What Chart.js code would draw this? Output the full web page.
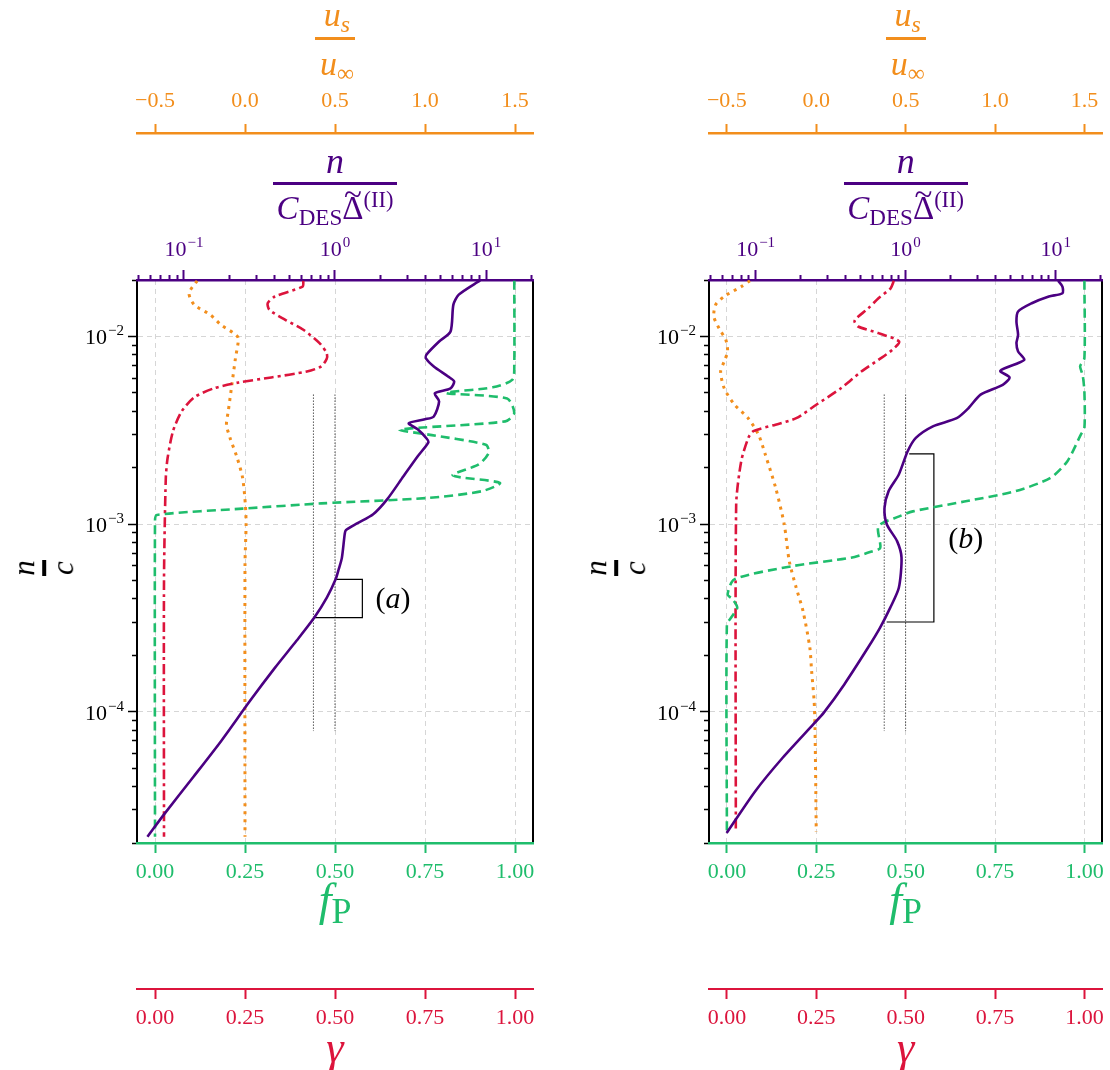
<!DOCTYPE html>
<html>
<head>
<meta charset="utf-8">
<script src="https://cdn.jsdelivr.net/npm/chart.js@4.4.1/dist/chart.umd.min.js"></script>
<style>
  html, body { margin: 0; padding: 0; background: #fff; }
  #wrap { position: relative; width: 1110px; height: 1070px; overflow: hidden;
          font-family: 'Liberation Serif', 'DejaVu Serif', serif; }
  .panel { position: absolute; top: 0; width: 555px; height: 1070px; }
  .panel canvas { position: absolute; left: 0; top: 0; }
  .lbl { position: absolute; white-space: nowrap; line-height: 1; transform: translateX(-50%); }
  .bar { position: absolute; transform: translateX(-50%); }
  .sub { font-size: 0.7em; position: relative; top: 0.25em; }
  .subP { font-size: 0.78em; position: relative; top: 0.22em; }
  .sup { font-size: 0.68em; position: relative; top: -0.55em; }
  .acc { position: relative; display: inline-block; }
  .til { position: absolute; left: 50%; top: -0.42em; transform: translateX(-50%); }
  .ylab { position: absolute; transform: translate(-50%, -50%) rotate(-90deg); text-align: center;
          line-height: 0.8; font-size: 31px; }
  .ylab .fbar { width: 16px; height: 4px; background: #000; margin: 5px auto 5px; }
  .tag { position: absolute; transform: translate(-50%, -50%); font-size: 30px; white-space: nowrap; }
</style>
</head>
<body>
<div id="wrap">
  <div class="panel" id="panelA" style="left:0"><canvas id="chartA" width="555" height="1070"></canvas></div>
  <div class="panel" id="panelB" style="left:555px"><canvas id="chartB" width="555" height="1070"></canvas></div>
</div>
<script>
// tick values
const fTicks = [0, 0.25, 0.5, 0.75, 1];
const uTicks = [-0.5, 0, 0.5, 1, 1.5];
const nRange = [0.0489, 20.46];
const cRange = [2e-5, 2e-2];

// panel (a)
const aPurpleY = [0.0199, 0.01671, 0.01479, 0.01063, 0.0094, 0.00802, 0.00764, 0.00692, 0.00612, 0.00576, 0.00529, 0.00498, 0.00451, 0.00375, 0.00362, 0.00345, 0.0032, 0.00286, 0.00273, 0.0023, 0.0018, 0.00136, 0.00113, 0.00101, 0.000929, 0.000885, 0.000659, 0.000577, 0.000508, 0.000406, 0.000318, 0.000239, 0.000172, 0.0001145, 7.02e-5, 4.48e-5, 2.86e-5, 2.16e-5];
const aPurpleX = [9.14, 6.60, 6.08, 5.82, 4.89, 4.04, 4.00, 4.51, 5.61, 6.15, 5.82, 4.58, 4.89, 4.51, 3.94, 3.08, 3.53, 4.04, 4.15, 3.53, 2.84, 2.22, 1.79, 1.40, 1.18, 1.16, 1.11, 1.06, 1.01, 0.883, 0.730, 0.556, 0.401, 0.274, 0.177, 0.115, 0.0743, 0.0573];
const aOrangeY = [0.0198, 0.0170, 0.01475, 0.01304, 0.01153, 0.01042, 0.0098, 0.00767, 0.00553, 0.00399, 0.00339, 0.00288, 0.00225, 0.00176, 0.00127, 0.000996, 0.00061, 2.16e-5];
const aOrangeU = [-0.266, -0.311, -0.282, -0.192, -0.133, -0.063, -0.037, -0.053, -0.073, -0.093, -0.103, -0.083, -0.043, -0.013, 0.002, 0.006, 0.0, 0.0];
const aRedY = [0.0198, 0.01845, 0.01634, 0.01504, 0.01386, 0.01227, 0.01086, 0.00922, 0.00815, 0.00761, 0.00693, 0.00651, 0.00605, 0.00569, 0.0053, 0.00474, 0.00399, 0.00313, 0.00225, 0.00176, 0.0005, 2.16e-5];
const aRedG = [0.412, 0.410, 0.333, 0.313, 0.318, 0.362, 0.412, 0.457, 0.477, 0.477, 0.462, 0.422, 0.323, 0.233, 0.164, 0.109, 0.074, 0.050, 0.035, 0.030, 0.025, 0.025];
const aGreenY = [0.0198, 0.00707, 0.00589, 0.00536, 0.0050, 0.00467, 0.00391, 0.00353, 0.00319, 0.0030, 0.00265, 0.0024, 0.00208, 0.00182, 0.00166, 0.0015, 0.00138, 0.00129, 0.00121, 0.00112, 0.00104, 2.16e-5];
const aGreenF = [0.998, 0.998, 0.993, 0.938, 0.809, 0.978, 0.998, 0.973, 0.680, 0.760, 0.919, 0.927, 0.899, 0.827, 0.958, 0.909, 0.760, 0.462, 0.243, 0.005, 0.0, 0.0];
const aBracketF = [0.503, 0.576, 0.576, 0.442];
const aBracketY = [5.08e-4, 5.08e-4, 3.18e-4, 3.18e-4];
const aTagPos = [0.661, 4.04e-4];

// panel (b)
const bPurpleY = [0.0198, 0.01845, 0.0170, 0.01634, 0.01504, 0.01359, 0.01202, 0.01021, 0.00922, 0.00832, 0.00751, 0.00657, 0.00605, 0.00553, 0.0049, 0.00416, 0.00367, 0.00332, 0.00288, 0.00244, 0.00184, 0.0015, 0.00122, 0.000996, 0.000812, 0.000663, 0.000458, 0.000359, 0.000281, 0.00022, 0.00014, 9.9e-5, 8.6e-5, 5.71e-5, 3.8e-5, 2.26e-5];
const bPurpleX = [10.4, 11.1, 11.1, 9.01, 6.93, 5.62, 5.48, 5.62, 5.48, 5.62, 6.18, 4.28, 4.93, 4.44, 3.16, 2.63, 2.19, 1.52, 1.17, 1.03, 0.901, 0.770, 0.723, 0.750, 0.877, 0.939, 0.901, 0.79, 0.676, 0.562, 0.390, 0.285, 0.243, 0.152, 0.1, 0.0641];
const bOrangeY = [0.0198, 0.01845, 0.01634, 0.01475, 0.01277, 0.01107, 0.0096, 0.00832, 0.00736, 0.00651, 0.0053, 0.00434, 0.00367, 0.003, 0.00235, 0.00156, 0.000996, 0.000635, 0.000458, 0.000344, 0.00022, 0.000165, 0.0001145, 8.24e-5, 2.3e-5];
const bOrangeU = [-0.371, -0.419, -0.515, -0.563, -0.573, -0.544, -0.506, -0.496, -0.515, -0.535, -0.515, -0.458, -0.381, -0.323, -0.285, -0.227, -0.179, -0.151, -0.112, -0.074, -0.036, -0.026, -0.012, -0.007, 0.0];
const bRedY = [0.0198, 0.01807, 0.016, 0.0141, 0.01251, 0.01202, 0.0113, 0.01042, 0.0094, 0.0085, 0.00751, 0.00651, 0.0053, 0.00434, 0.00367, 0.00339, 0.00313, 0.00288, 0.00216, 0.00127, 2.3e-5];
const bRedG = [0.467, 0.458, 0.424, 0.395, 0.362, 0.357, 0.367, 0.424, 0.482, 0.463, 0.424, 0.376, 0.319, 0.251, 0.194, 0.136, 0.074, 0.060, 0.040, 0.026, 0.025];
const bGreenY = [0.0198, 0.00767, 0.00693, 0.00625, 0.00509, 0.00325, 0.003, 0.00216, 0.00176, 0.0015, 0.00132, 0.00117, 0.0011, 0.000976, 0.000748, 0.000715, 0.000663, 0.000598, 0.000508, 0.000422, 0.000398, 0.000359, 0.000318, 0.000292, 2.3e-5];
const bGreenF = [1.0, 1.0, 0.988, 0.995, 1.0, 1.0, 0.990, 0.952, 0.904, 0.808, 0.664, 0.520, 0.482, 0.424, 0.429, 0.405, 0.347, 0.184, 0.021, 0.002, 0.016, 0.029, 0.012, 0.0, 0.0];
const bBracketF = [0.51, 0.579, 0.579, 0.447];
const bBracketY = [2.37e-3, 2.37e-3, 3.01e-4, 3.01e-4];
const bTagPos = [0.668, 8.43e-4];

// dotted guides (both panels), on the n/(C Delta) axis
const guideN = [0.72, 1.0];
const guideY = [4.9e-3, 7.9e-5];

const PURPLE = '#4b0082', ORANGE = '#f28e1c', GREEN = '#1fbd6c', RED = '#dc143c';
const GRID = '#d6d6d6';
const FONT = "'Liberation Serif', 'DejaVu Serif', serif";
Chart.defaults.font.family = FONT;

function logTicks(min, max) {
  const out = [];
  for (let k = Math.floor(Math.log10(min)); k <= Math.ceil(Math.log10(max)); k++) {
    for (let m = 1; m <= 9; m++) {
      const v = m * Math.pow(10, k);
      if (v >= min * 0.999 && v <= max * 1.001) out.push({ value: v, major: m === 1 });
    }
  }
  return out;
}
const pts = (xs, ys) => xs.map((x, i) => ({ x, y: ys[i] }));
const isMajor = c => c.tick && c.tick.major;
// minor ticks: draw only the inner part of the tick line
const minorDash = (tl, len) => c => (c.tick && !c.tick.major ? [0, tl - len, len + 20] : []);

// draws 10^k labels of the log axes with a real raised exponent
const powerLabels = {
  id: 'powerLabels',
  afterDraw(chart) {
    const ctx = chart.ctx;
    const draw = (scale, color, place) => {
      scale.ticks.forEach(t => {
        if (!t.major) return;
        const exp = String(Math.round(Math.log10(t.value))).replace('-', '\u2212');
        ctx.save();
        ctx.fillStyle = color;
        ctx.textBaseline = 'alphabetic';
        ctx.font = '22px ' + FONT;
        const wBase = ctx.measureText('10').width;
        ctx.font = '15px ' + FONT;
        const wExp = ctx.measureText(exp).width;
        const pos = scale.getPixelForValue(t.value);
        const [x0, yb] = place(pos, wBase + wExp + 1);
        ctx.font = '22px ' + FONT;
        ctx.fillText('10', x0, yb);
        ctx.font = '15px ' + FONT;
        ctx.fillText(exp, x0 + wBase + 1, yb - 9);
        ctx.restore();
      });
    };
    const ys = chart.scales.y, xn = chart.scales.xn;
    draw(ys, '#000', (p, w) => [ys.right - 13 - w, p + 8]);
    draw(xn, PURPLE, (p, w) => [p - w / 2, xn.bottom - 24]);
  }
};

function buildChart(canvasId, p) {
  const line = (data, axis, color, dash, width) => ({
    data, xAxisID: axis, borderColor: color, borderDash: dash, borderWidth: width,
    pointRadius: 0, tension: 0.25, fill: false
  });
  const datasets = [
    line(pts(p.purpleX, p.purpleY), 'xn', PURPLE, [], 2.6),
    line(pts(p.greenF, p.greenY), 'x', GREEN, [9, 5], 2.6),
    line(pts(p.redG, p.redY), 'xg', RED, [10, 4, 3, 4], 2.6),
    line(pts(p.orangeU, p.orangeY), 'xu', ORANGE, [3, 5], 3),
    line(pts([guideN[0], guideN[0]], guideY), 'xn', '#000', [1, 2], 1),
    line(pts([guideN[1], guideN[1]], guideY), 'xn', '#000', [1, 2], 1),
    line(pts(p.bracketF, p.bracketY), 'x', '#000', [], 1.2)
  ];
  datasets.forEach(d => { if (d.data.length <= 4) d.tension = 0; });
  const tickFont = { family: FONT, size: 22 };
  return new Chart(document.getElementById(canvasId), {
    type: 'line',
    data: { datasets },
    plugins: [powerLabels],
    options: {
      responsive: false,
      animation: false,
      layout: { padding: { left: 0, right: p.padRight, top: 0, bottom: 0 } },
      plugins: { legend: { display: false }, tooltip: { enabled: false } },
      scales: {
        y: {
          type: 'logarithmic', position: 'left', min: cRange[0], max: cRange[1],
          afterFit: s => { s.width = p.axisW; },
          afterBuildTicks: s => { s.ticks = logTicks(cRange[0], cRange[1]); },
          ticks: { color: '#000', font: tickFont, padding: 4, autoSkip: false, callback: () => '' },
          grid: { color: c => (isMajor(c) ? GRID : 'rgba(0,0,0,0)'), lineWidth: 1,
                  tickColor: '#000', tickLength: 9, tickWidth: 1.5, tickBorderDash: minorDash(9, 5) },
          border: { color: '#000', width: 2, dash: [5, 4] }
        },
        yr: {
          type: 'logarithmic', position: 'right', min: cRange[0], max: cRange[1],
          afterFit: s => { s.width = 0; },
          ticks: { display: false },
          grid: { display: false, drawTicks: false },
          border: { color: '#000', width: 2 }
        },
        x: {
          type: 'linear', position: 'bottom', weight: 0, min: -0.05, max: 1.05,
          afterFit: s => { s.height = 146; },
          afterBuildTicks: s => { s.ticks = fTicks.map(v => ({ value: v })); },
          ticks: { color: GREEN, font: tickFont, padding: 6, autoSkip: false, maxRotation: 0,
                   callback: v => v.toFixed(2) },
          grid: { color: GRID, lineWidth: 1, tickColor: GREEN, tickLength: 10, tickWidth: 2 },
          border: { color: GREEN, width: 2.5, dash: [5, 4] }
        },
        xg: {
          type: 'linear', position: 'bottom', weight: 1, min: -0.05, max: 1.05,
          afterFit: s => { s.height = 81; },
          afterBuildTicks: s => { s.ticks = fTicks.map(v => ({ value: v })); },
          ticks: { color: RED, font: tickFont, padding: 6, autoSkip: false, maxRotation: 0,
                   callback: v => v.toFixed(2) },
          grid: { drawOnChartArea: false, tickColor: RED, tickLength: 10, tickWidth: 2 },
          border: { color: RED, width: 2 }
        },
        xn: {
          type: 'logarithmic', position: 'top', weight: 0, min: nRange[0], max: nRange[1],
          afterFit: s => { s.height = 147; },
          afterBuildTicks: s => { s.ticks = logTicks(nRange[0], nRange[1]); },
          ticks: { color: PURPLE, font: tickFont, padding: 9, autoSkip: false, maxRotation: 0,
                   callback: () => '' },
          grid: { drawOnChartArea: false, tickColor: PURPLE, tickLength: 10, tickWidth: 2,
                  tickBorderDash: minorDash(10, 5) },
          border: { color: PURPLE, width: 2.5 }
        },
        xu: {
          type: 'linear', position: 'top', weight: 1, min: -0.6, max: 1.6,
          afterFit: s => { s.height = 133; },
          afterBuildTicks: s => { s.ticks = uTicks.map(v => ({ value: v })); },
          ticks: { color: ORANGE, font: tickFont, padding: 10, autoSkip: false, maxRotation: 0,
                   callback: v => v.toFixed(1).replace('-', '\u2212') },
          grid: { drawOnChartArea: false, tickColor: ORANGE, tickLength: 9, tickWidth: 2 },
          border: { color: ORANGE, width: 2.5 }
        }
      }
    }
  });
}

function addText(panel, html, cls, x, y, style) {
  const el = document.createElement('div');
  el.className = cls;
  el.innerHTML = html;
  el.style.left = x + 'px';
  el.style.top = y + 'px';
  Object.assign(el.style, style || {});
  panel.appendChild(el);
  return el;
}

function decorate(panelId, chart, tagText, tagPos) {
  const panel = document.getElementById(panelId);
  const a = chart.chartArea;
  const cx = (a.left + a.right) / 2;
  // u_s / u_inf
  addText(panel, '<i>u</i><span class="sub"><i>s</i></span>', 'lbl', cx + 2, -2, { color: ORANGE, fontSize: '34px' });
  addText(panel, '', 'bar', cx, 37, { width: '40px', height: '3px', background: ORANGE });
  addText(panel, '<i>u</i><span class="sub">\u221e</span>', 'lbl', cx + 2, 47, { color: ORANGE, fontSize: '34px' });
  // n / (C_DES Delta~(II))
  addText(panel, '<i>n</i>', 'lbl', cx, 143, { color: PURPLE, fontSize: '36px' });
  addText(panel, '', 'bar', cx, 182, { width: '124px', height: '3px', background: PURPLE });
  addText(panel, '<i>C</i><span class="sub">DES</span><span class="acc">\u0394<span class="til">~</span></span><span class="sup">(II)</span>',
    'lbl', cx, 192, { color: PURPLE, fontSize: '33px' });
  // f_P and gamma
  addText(panel, '<i>f</i><span class="subP">P</span>', 'lbl', cx, 877, { color: GREEN, fontSize: '46px' });
  addText(panel, '<i>\u03b3</i>', 'lbl', cx, 1026, { color: RED, fontSize: '44px' });
  // n / c
  addText(panel, '<div><i>n</i></div><div class="fbar"></div><div><i>c</i></div>', 'ylab', a.left - 93, 568);
  // panel tag
  const tx = chart.scales.x.getPixelForValue(tagPos[0]);
  const ty = chart.scales.y.getPixelForValue(tagPos[1]);
  addText(panel, '(<i>' + tagText + '</i>)', 'tag', tx, ty);
}

const chartA = buildChart('chartA', {
  purpleX: aPurpleX, purpleY: aPurpleY, orangeU: aOrangeU, orangeY: aOrangeY,
  redG: aRedG, redY: aRedY, greenF: aGreenF, greenY: aGreenY,
  bracketF: aBracketF, bracketY: aBracketY, axisW: 137, padRight: 22
});
const chartB = buildChart('chartB', {
  purpleX: bPurpleX, purpleY: bPurpleY, orangeU: bOrangeU, orangeY: bOrangeY,
  redG: bRedG, redY: bRedY, greenF: bGreenF, greenY: bGreenY,
  bracketF: bBracketF, bracketY: bBracketY, axisW: 154, padRight: 5
});
decorate('panelA', chartA, 'a', aTagPos);
decorate('panelB', chartB, 'b', bTagPos);
</script>
</body>
</html>
